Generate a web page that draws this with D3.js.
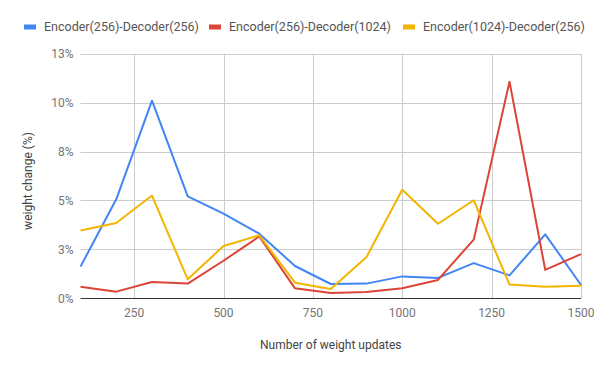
<!DOCTYPE html>
<html>
<head>
<meta charset="utf-8">
<script src="https://cdn.jsdelivr.net/npm/d3@7"></script>
<style>
  body { margin: 0; background: #fff; }
  text { font-family: Roboto, "Noto Sans", sans-serif; }
</style>
</head>
<body>
<div id="chart"></div>
<script>
// data
var updates = [100, 200, 300, 400, 500, 600, 700, 800, 900, 1000, 1100, 1200, 1300, 1400, 1500];
var enc256dec256 = [1.62, 5.06, 10.1, 5.21, 4.33, 3.3, 1.65, 0.73, 0.75, 1.12, 1.04, 1.8, 1.17, 3.27, 0.68];
var enc256dec1024 = [0.59, 0.34, 0.83, 0.75, 1.92, 3.16, 0.51, 0.27, 0.32, 0.51, 0.94, 3.0, 11.07, 1.45, 2.26];
var enc1024dec256 = [3.47, 3.85, 5.25, 0.97, 2.67, 3.22, 0.8, 0.48, 2.11, 5.55, 3.81, 5.01, 0.7, 0.59, 0.64];
var seriesNames = ["Encoder(256)-Decoder(256)", "Encoder(256)-Decoder(1024)", "Encoder(1024)-Decoder(256)"];
var seriesColors = ["#4285f4", "#db4437", "#f4b400"];
var xTicks = [250, 500, 750, 1000, 1250, 1500];
var yTicks = [0, 2.5, 5, 7.5, 10, 12.5];

var width = 600, height = 371;
var margin = {top: 54, right: 19, bottom: 73, left: 80.5};

var svg = d3.select("#chart").append("svg")
  .attr("width", width)
  .attr("height", height);

var x = d3.scaleLinear().domain([100, 1500]).range([margin.left, width - margin.right]);
var y = d3.scaleLinear().domain([0, 12.5]).range([height - margin.bottom + 0.3, margin.top - 0.3]);

// gridlines
var grid = svg.append("g");
grid.selectAll(".hg").data(yTicks.slice(1)).enter().append("line")
  .attr("x1", x(100)).attr("x2", x(1500))
  .attr("y1", function (d) { return Math.round(y(d)) + 0.5; })
  .attr("y2", function (d) { return Math.round(y(d)) + 0.5; })
  .style("stroke", "#cccccc").style("stroke-width", 1);
grid.selectAll(".vg").data(xTicks).enter().append("line")
  .attr("x1", function (d) { return Math.round(x(d)) + 0.5; })
  .attr("x2", function (d) { return Math.round(x(d)) + 0.5; })
  .attr("y1", y(0)).attr("y2", y(12.5))
  .style("stroke", "#cccccc").style("stroke-width", 1);

// y tick labels
svg.append("g").selectAll("text").data(yTicks).enter().append("text")
  .attr("x", x(100) - 7)
  .attr("y", function (d) { return y(d); })
  .attr("dy", "0.35em")
  .attr("text-anchor", "end")
  .style("font-size", "12px")
  .style("fill", "#757575")
  .text(function (d) { return Math.round(d) + "%"; });

// x tick labels
svg.append("g").selectAll("text").data(xTicks).enter().append("text")
  .attr("x", function (d) { return x(d); })
  .attr("y", y(0) + 19)
  .attr("text-anchor", "middle")
  .style("font-size", "12px")
  .style("fill", "#757575")
  .text(function (d) { return d; });

// series lines
var allSeries = [enc256dec256, enc256dec1024, enc1024dec256];
var line = d3.line()
  .x(function (d, i) { return x(updates[i]); })
  .y(function (d) { return y(d); });

// baseline
svg.append("line")
  .attr("x1", x(100)).attr("x2", x(1500))
  .attr("y1", Math.round(y(0)) + 0.5).attr("y2", Math.round(y(0)) + 0.5)
  .style("stroke", "#333333").style("stroke-width", 1);

svg.append("g").selectAll("path").data(allSeries).enter().append("path")
  .attr("d", line)
  .style("fill", "none")
  .style("stroke", function (d, i) { return seriesColors[i]; })
  .style("stroke-width", 2)
  .style("stroke-linejoin", "round");

// axis titles
svg.append("text")
  .attr("x", (x(100) + x(1500)) / 2)
  .attr("y", 349)
  .attr("text-anchor", "middle")
  .style("font-size", "12px")
  .style("fill", "#444444")
  .text("Number of weight updates");

svg.append("text")
  .attr("transform", "translate(32,181) rotate(-90)")
  .attr("text-anchor", "middle")
  .style("font-size", "12px")
  .style("fill", "#444444")
  .text("weight change (%)");

// legend
var legendX = [24, 209, 403];
var legend = svg.append("g").selectAll("g").data(seriesNames).enter().append("g")
  .attr("transform", function (d, i) { return "translate(" + legendX[i] + ",27)"; });
legend.append("rect")
  .attr("x", 0).attr("y", -2.5)
  .attr("width", 12).attr("height", 5)
  .style("fill", function (d, i) { return seriesColors[i]; });
legend.append("text")
  .attr("x", 20)
  .attr("dy", "0.35em")
  .style("font-size", "12.5px")
  .style("fill", "#555555")
  .text(function (d) { return d; });
</script>
</body>
</html>
